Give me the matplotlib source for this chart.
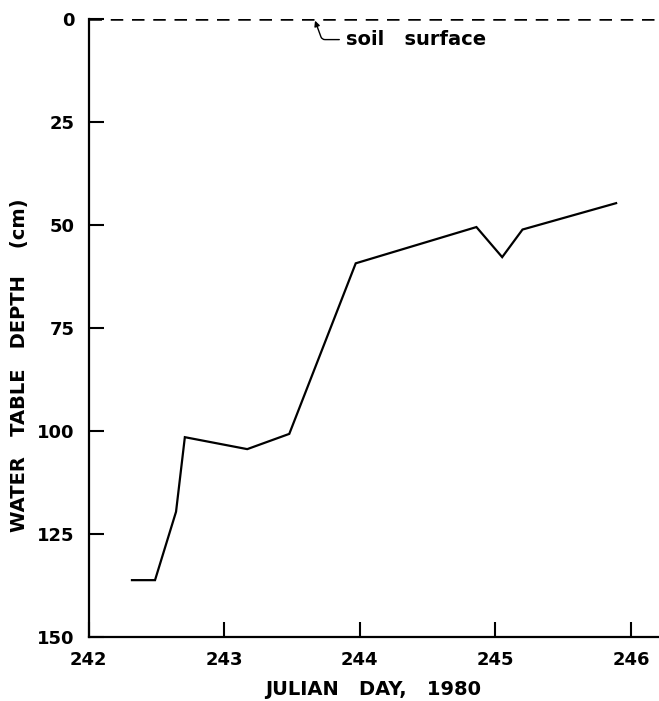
import matplotlib
matplotlib.use("Agg")
import matplotlib.pyplot as plt

# water table readings
day = [242.32, 242.49, 242.645, 242.71, 243.17, 243.48, 243.97, 244.86, 245.05, 245.20, 245.89]
depth = [136.2, 136.2, 119.6, 101.5, 104.4, 100.7, 59.3, 50.5, 57.8, 51.1, 44.7]

xticks = [242, 243, 244, 245, 246]
yticks = [0, 25, 50, 75, 100, 125, 150]

plt.rcParams['font.family'] = ['DejaVu Sans']
plt.rcParams['font.weight'] = 'bold'
plt.rcParams['axes.labelweight'] = 'bold'

fig = plt.figure(figsize=(6.59, 7.01), dpi=100)
ax = fig.add_axes([0.1344, 0.0913, 0.8643, 0.8816])

ax.plot(day, depth, color='black', lw=1.6, solid_joinstyle='miter')
# soil surface
ax.axhline(0, color='black', lw=1.8, ls=(0, (5, 3.5)))
ax.annotate('soil   surface', xy=(243.67, 0.4), xytext=(243.9, 5.0),
            fontsize=14, va='center', ha='left',
            arrowprops=dict(arrowstyle='-|>', color='black', lw=1.0,
                            connectionstyle='angle,angleA=0,angleB=110,rad=3',
                            shrinkA=3, shrinkB=0, mutation_scale=8))

ax.set_xlim(242, 246.2)
ax.set_ylim(150, 0)
ax.set_xticks(xticks)
ax.set_yticks(yticks)
ax.tick_params(direction='in', length=11, width=1.5, labelsize=13, pad=10)
for s in ['top', 'right']:
    ax.spines[s].set_visible(False)
for s in ['left', 'bottom']:
    ax.spines[s].set_linewidth(1.6)

ax.set_xlabel('JULIAN   DAY,   1980', fontsize=14, labelpad=8)
ax.set_ylabel('WATER   TABLE   DEPTH    (cm)', fontsize=14)
ax.yaxis.set_label_coords(-0.105, 0.44)

fig.savefig('out.png', dpi=100)
